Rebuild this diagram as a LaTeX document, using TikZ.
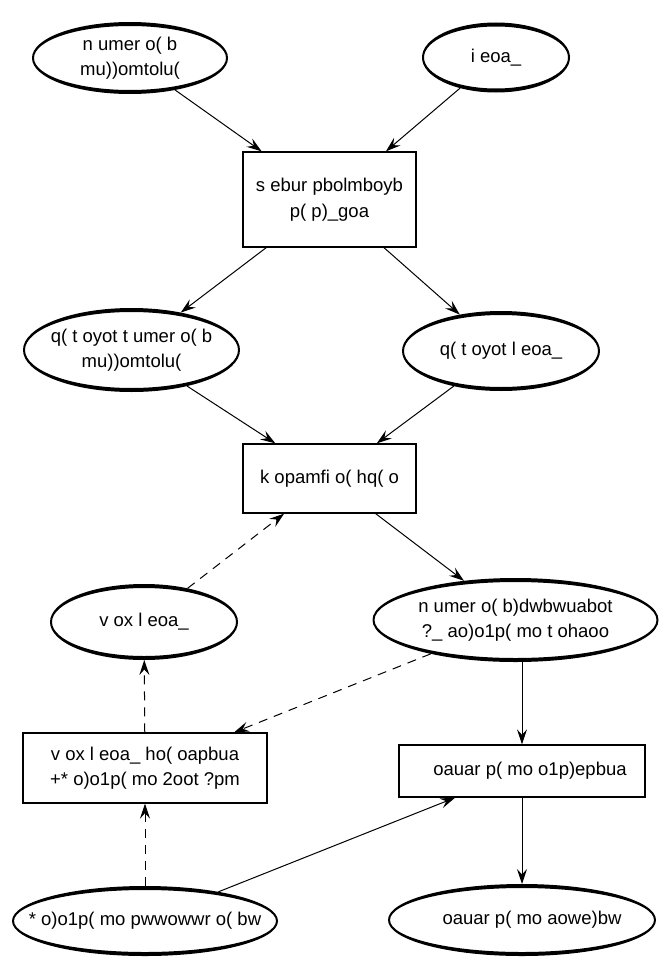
\documentclass[tikz,border=0pt]{standalone}
\usepackage{fontspec}
\setmainfont{Liberation Sans}
\usetikzlibrary{arrows.meta,shapes.geometric}

% Oval node with a ring outline that is heavier at top and bottom:
% #1 name, #2 x, #3 y, #4 x radius, #5 y radius, #6 text
\newcommand\ovalnode[6]{%
  \fill[even odd rule] (#2,#3) ellipse [x radius={#4pt}, y radius={#5pt}]
    (#2,#3) ellipse [x radius={#4pt-2pt}, y radius={#5pt-4pt}];
  \node[oval, minimum width={2*#4pt}, minimum height={2*#5pt}] (#1) at (#2,#3) {#6};}

\begin{document}
\begin{tikzpicture}[x=1pt, y=-1pt,
  every node/.style={font=\fontsize{18.5}{25.5}\selectfont, align=center},
  oval/.style={ellipse, draw=none, inner sep=0pt, inner xsep=-60pt, outer sep=0pt},
  box/.style={rectangle, draw, line width=1.3pt, inner sep=0pt},
  link/.style={line width=1pt, -{Stealth[length=15pt, width=10pt, inset=5.5pt]}},
  weak/.style={link, dash pattern=on 9pt off 7pt}]
\useasboundingbox (0,0) rectangle (660,958);

% top row
\ovalnode{e1}{130}{58}{98}{36}{n umer o( b\\mu))omtolu(}
\ovalnode{e2}{496}{57.5}{74}{35}{i eoa\_}
\node[box, minimum width=173pt, minimum height=95pt] (r1) at (329.5,199.5)
  {s ebur pbolmboyb\\p( p)\_goa};

% second row
\ovalnode{e3}{131.5}{350}{108.5}{42}{q( t oyot t umer o( b\\mu))omtolu(}
\ovalnode{e4}{501}{351}{99}{40}{q( t oyot l eoa\_}
\node[box, minimum width=173pt, minimum height=69pt] (r2) at (329.5,478.5)
  {k opamfi o( hq( o};

% third row
\ovalnode{e5}{144}{622}{94}{38}{v ox l eoa\_}
\ovalnode{e6}{515.5}{620}{143}{42}{n umer o( b)dwbwuabot\\?\_ ao)o1p( mo t ohaoo}
\node[box, minimum width=244pt, minimum height=70pt] (r3) at (145,768)
  {v ox l eoa\_ ho( oapbua\\+* o)o1p( mo 2oot ?pm};
\node[box, minimum width=246pt, minimum height=52pt] (r4) at (522,771)
  {\hspace*{16pt}oauar p( mo o1p)epbua};

% bottom row
\ovalnode{e7}{145}{921}{133}{35}{* o)o1p( mo pwwowwr o( bw}
\ovalnode{e8}{522}{920}{134}{36}{\hspace*{20pt}oauar p( mo aowe)bw}

% connectors
\draw[link] (e1) -- (r1);
\draw[link] (e2) -- (r1);
\draw[link] (r1) -- (e3);
\draw[link] (r1) -- (e4);
\draw[link] (e3) -- (r2);
\draw[link] (e4) -- (r2);
\draw[link] (r2) -- (e6);
\draw[weak] (e5) -- (r2);
\draw[weak] (e6) -- (r3);
\draw[weak] (r3) -- (e5);
\draw[weak] (e7) -- (r3);
\draw[link] (e6.south -| r4.north) -- (r4.north);
\draw[link] (e7) -- (r4);
\draw[link] (r4) -- (e8);
\end{tikzpicture}
\end{document}
